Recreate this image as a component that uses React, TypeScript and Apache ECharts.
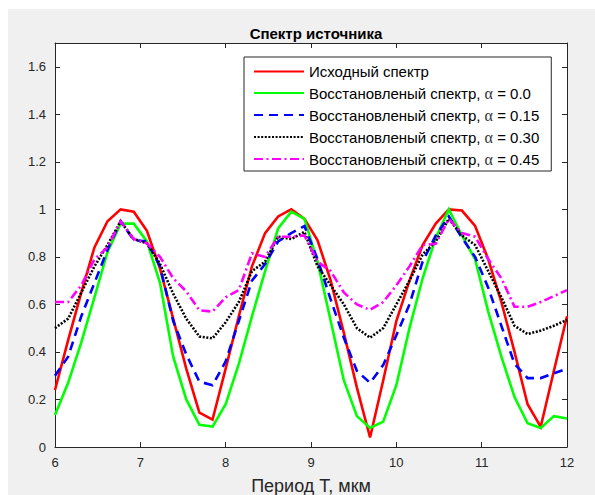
import React, { useEffect, useRef } from "react";
import * as echarts from "echarts";

const titleText = "Спектр источника";
const xAxisName = "Период T, мкм";

const xs = [
  6.0, 6.154, 6.308, 6.462, 6.615, 6.769, 6.923, 7.077, 7.231, 7.385,
  7.538, 7.692, 7.846, 8.0, 8.154, 8.308, 8.462, 8.615, 8.769, 8.923,
  9.077, 9.231, 9.385, 9.538, 9.692, 9.846, 10.0, 10.154, 10.308, 10.462,
  10.615, 10.769, 10.923, 11.077, 11.231, 11.385, 11.538, 11.692, 11.846, 12.0,
];

const original = [
  0.24, 0.45, 0.65, 0.84, 0.95, 1.0, 0.99, 0.91, 0.75, 0.54,
  0.33, 0.145, 0.115, 0.33, 0.55, 0.76, 0.9, 0.97, 1.0, 0.96,
  0.87, 0.7, 0.48, 0.25, 0.04, 0.28, 0.53, 0.7, 0.85, 0.94,
  1.0, 0.995, 0.93, 0.79, 0.61, 0.4, 0.18, 0.085, 0.32, 0.55,
];

const alpha000 = [
  0.135, 0.27, 0.44, 0.63, 0.82, 0.94, 0.94, 0.865, 0.69, 0.38,
  0.2, 0.093, 0.086, 0.18, 0.35, 0.55, 0.74, 0.92, 0.99, 0.96,
  0.78, 0.53, 0.28, 0.13, 0.08, 0.107, 0.26, 0.5, 0.71, 0.88,
  1.0, 0.89, 0.79, 0.57, 0.38, 0.21, 0.1, 0.08, 0.13, 0.12,
];

const alpha015 = [
  0.3, 0.38, 0.55, 0.69, 0.83, 0.95, 0.87, 0.865, 0.76, 0.53,
  0.39, 0.275, 0.26, 0.36, 0.53, 0.7, 0.77, 0.865, 0.9, 0.93,
  0.79, 0.62, 0.46, 0.32, 0.27, 0.345, 0.47, 0.6, 0.78, 0.89,
  0.97, 0.88, 0.8, 0.67, 0.51, 0.35, 0.29, 0.29, 0.31, 0.33,
];

const alpha030 = [
  0.5, 0.54, 0.65, 0.76, 0.85, 0.95, 0.875, 0.857, 0.77, 0.645,
  0.54, 0.465, 0.457, 0.525, 0.61, 0.74, 0.78, 0.885, 0.875, 0.905,
  0.76, 0.68, 0.6, 0.5, 0.46, 0.5, 0.6, 0.7, 0.81, 0.865,
  0.96, 0.89, 0.85, 0.74, 0.63, 0.51, 0.475, 0.49, 0.51, 0.535,
];

const alpha045 = [
  0.61, 0.61, 0.68, 0.79, 0.84, 0.95, 0.875, 0.857, 0.8, 0.71,
  0.655, 0.575, 0.57, 0.63, 0.66, 0.815, 0.8, 0.885, 0.885, 0.89,
  0.78, 0.74, 0.65, 0.6, 0.577, 0.61, 0.68, 0.76, 0.85, 0.855,
  0.96, 0.9, 0.885, 0.79, 0.71, 0.59, 0.59, 0.61, 0.635, 0.66,
];

const seriesNames = [
  "Исходный спектр",
  "Восстановленый спектр, α = 0.0",
  "Восстановленый спектр, α = 0.15",
  "Восстановленый спектр, α = 0.30",
  "Восстановленый спектр, α = 0.45",
];
const seriesValues = [original, alpha000, alpha015, alpha030, alpha045];
const seriesColors = ["#ff0000", "#00ff00", "#0000ff", "#000000", "#ff00ff"];
const seriesDash: any[] = ["solid", "solid", [9, 6], [2, 1.6], [9, 3.5, 2, 3.5]];

const AXIS = "#262626";
const FONT = "'Liberation Sans', Arial, Helvetica, sans-serif";

export default function App() {
  const ref = useRef<HTMLDivElement>(null);

  useEffect(() => {
    document.body.style.margin = "0";
    if (!ref.current) return;
    const chart = echarts.init(ref.current, undefined, { renderer: "svg" });

    const baseAxis = {
      min: 6,
      max: 12,
      interval: 1,
      splitLine: { show: false },
      axisLine: { show: true, onZero: false, lineStyle: { color: AXIS, width: 1 } },
      axisTick: { show: true, inside: true, length: 5, lineStyle: { color: AXIS } },
    };
    const baseY = {
      min: 0,
      max: 1.7,
      interval: 0.2,
      splitLine: { show: false },
      axisLine: { show: true, onZero: false, lineStyle: { color: AXIS, width: 1 } },
      axisTick: { show: true, inside: true, length: 5, lineStyle: { color: AXIS } },
    };

    chart.setOption({
      animation: false,
      backgroundColor: "#ffffff",
      graphic: [
        {
          type: "rect",
          z: -10,
          silent: true,
          shape: { x: 8, y: 9, width: 600, height: 500 },
          style: { fill: "#f0f0f0" },
        },
      ],
      title: {
        text: titleText,
        left: 311,
        textAlign: "center",
        top: 21,
        textStyle: { fontFamily: FONT, fontSize: 15, fontWeight: "bold", color: "#000" },
      },
      grid: {
        left: 55,
        right: 28,
        top: 43,
        bottom: 48,
        show: true,
        backgroundColor: "#ffffff",
        borderWidth: 0,
        containLabel: false,
        outerBoundsMode: "none",
      },
      xAxis: [
        {
          type: "value",
          position: "bottom",
          ...baseAxis,
          name: xAxisName,
          nameLocation: "middle",
          nameGap: 30,
          nameTextStyle: { fontFamily: FONT, fontSize: 18, color: AXIS },
          axisLabel: { fontFamily: FONT, fontSize: 13, color: AXIS, margin: 9 },
        },
        {
          type: "value",
          position: "top",
          ...baseAxis,
          axisLabel: { show: false },
        },
      ],
      yAxis: [
        {
          type: "value",
          position: "left",
          ...baseY,
          axisLabel: {
            fontFamily: FONT,
            fontSize: 13,
            color: AXIS,
            margin: 9,
            showMaxLabel: false,
          },
        },
        {
          type: "value",
          position: "right",
          ...baseY,
          axisLabel: { show: false },
        },
      ],
      legend: {
        orient: "vertical",
        left: 244,
        top: 57,
        itemWidth: 50,
        itemHeight: 14,
        itemGap: 6,
        padding: [7, 12, 4, 9],
        backgroundColor: "#ffffff",
        borderColor: AXIS,
        borderWidth: 1,
        borderRadius: 0,
        itemStyle: { color: "rgba(0,0,0,0)", borderWidth: 0, opacity: 0 },
        data: seriesNames,
        formatter: (name: string) => {
          const i = name.indexOf("α");
          if (i < 0) return `{t|${name}}`;
          return `{t|${name.slice(0, i)}}{g|α}{t|${name.slice(i + 1)}}`;
        },
        textStyle: {
          rich: {
            t: { fontFamily: FONT, fontSize: 15, color: "#000", lineHeight: 14 },
            g: { fontFamily: "'Liberation Serif', 'Times New Roman', serif", fontSize: 16, color: "#333", lineHeight: 14 },
          },
        },
      },
      series: seriesNames.map((name, s) => ({
        name,
        type: "line",
        xAxisIndex: 0,
        yAxisIndex: 0,
        symbol: "none",
        showSymbol: false,
        clip: true,
        data: xs.map((x, i) => [x, seriesValues[s][i]]),
        lineStyle: {
          color: seriesColors[s],
          width: 2.6,
          type: seriesDash[s],
          cap: "butt",
          join: "miter",
        },
        itemStyle: { color: seriesColors[s] },
      })),
    });

    return () => chart.dispose();
  }, []);

  return <div ref={ref} style={{ width: 595, height: 495 }} />;
}
